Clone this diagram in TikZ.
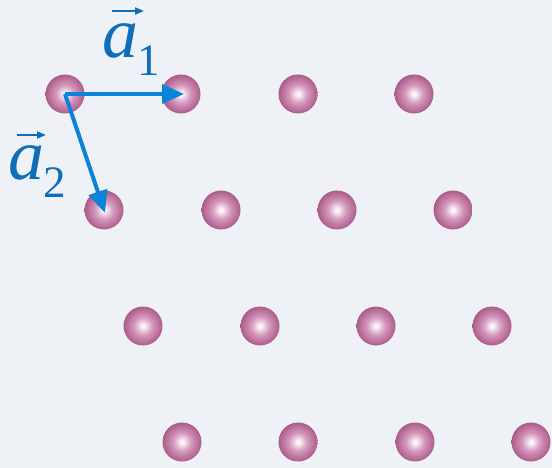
\documentclass[tikz,border=0pt]{standalone}
\usepackage{fontspec}
\setmainfont{Liberation Serif}
\usetikzlibrary{arrows.meta}
\definecolor{bg}{RGB}{238,242,246}
\definecolor{vecblue}{RGB}{10,132,216}
\definecolor{labblue}{RGB}{14,110,185}
\definecolor{ballout}{RGB}{172,92,138}
\definecolor{ballmid}{RGB}{212,150,188}
\pgfdeclareradialshading{pinkball}{\pgfpoint{0bp}{0bp}}{color(0bp)=(white); color(3bp)=(white!80!ballmid); color(12bp)=(ballmid); color(25bp)=(ballout); color(50bp)=(ballout)}
\newcommand{\veclab}[1]{\textit{a}\hspace{-1pt}\raisebox{-18pt}{\fontsize{45}{45}\selectfont #1}}
\tikzset{
  atom/.style={circle, minimum size=39pt, inner sep=0pt, shading=pinkball},
  lattvec/.style={vecblue, line width=4pt, -{Triangle[length=22pt,width=19pt]}, shorten >=-3pt},
  veclabel/.style={text=labblue, font=\fontsize{72}{72}\selectfont, inner sep=0pt, anchor=base west},
  accentarrow/.style={labblue, line width=2pt, -{Triangle[length=9pt,width=7pt]}}
}
\begin{document}
\begin{tikzpicture}[x=1pt,y=-1pt]
\useasboundingbox (0,0) rectangle (552,468);
\fill[bg] (0,0) rectangle (552,468);
% row 1
\node[atom] (a11) at (65,94) {};
\node[atom] (a12) at (181,94) {};
\node[atom] (a13) at (298,94) {};
\node[atom] (a14) at (414,94) {};
% row 2
\node[atom] (a21) at (104,210) {};
\node[atom] (a22) at (221,210) {};
\node[atom] (a23) at (337,210) {};
\node[atom] (a24) at (453,210) {};
% row 3
\node[atom] (a31) at (143,326) {};
\node[atom] (a32) at (260,326) {};
\node[atom] (a33) at (376,326) {};
\node[atom] (a34) at (492,326) {};
% row 4
\node[atom] (a41) at (182,442) {};
\node[atom] (a42) at (298,442) {};
\node[atom] (a43) at (415,442) {};
\node[atom] (a44) at (531,442) {};
% lattice vectors
\draw[lattvec] (a11.center) -- (a12.center);
\draw[lattvec] (a11.center) -- (a21.center);
% labels
\node[veclabel] (l1) at (102,58) {\veclab{1}};
\node[veclabel] (l2) at (8,180) {\veclab{2}};
\coordinate (l1s) at (112,11);
\coordinate (l1e) at (144,11);
\coordinate (l2s) at (17,135);
\coordinate (l2e) at (46,135);
\draw[accentarrow] (l1s) -- (l1e);
\draw[accentarrow] (l2s) -- (l2e);
\end{tikzpicture}
\end{document}
